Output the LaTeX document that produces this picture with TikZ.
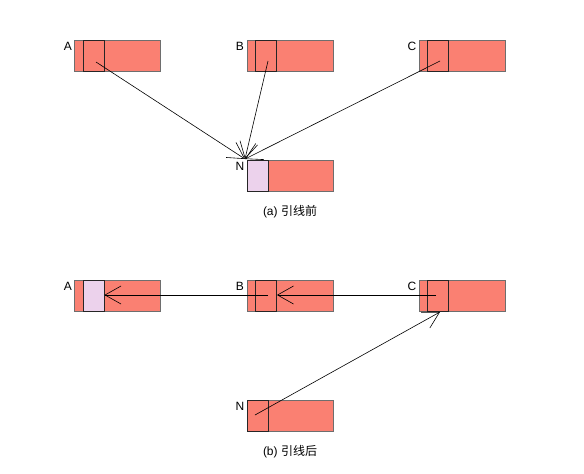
\documentclass[tikz,border=0pt]{standalone}
\usepackage{fontspec}
\setmainfont{Liberation Sans}
\newfontfamily\cjk{Noto Sans CJK SC}
\usetikzlibrary{arrows.meta}
\definecolor{salm}{RGB}{250,128,114}
\definecolor{lav}{RGB}{236,210,236}
\definecolor{edge}{RGB}{110,110,110}
\tikzset{
  outerbox/.style={draw=edge, fill=salm, line width=0.8pt, minimum width=86pt, minimum height=31pt, inner sep=0pt},
  innerbox/.style={draw=black!85, line width=0.8pt, minimum width=21pt, minimum height=31pt, inner sep=0pt},
  hl/.style={fill=lav},
  lbl/.style={font=\fontsize{12pt}{14pt}\selectfont, inner sep=0pt},
  captext/.style={font=\fontsize{12pt}{14pt}\selectfont, inner sep=0pt},
  link/.style={line width=0.6pt, -{Straight Barb[length=16pt,width=18pt,line width=0.6pt]}}
}
\begin{document}
\begin{tikzpicture}[x=1pt,y=-1pt]
\useasboundingbox (0,0) rectangle (584,474);
% (a)
\node[outerbox] (Ao) at (117,55.5) {};
\node[innerbox] (Ai) at (93.5,55.5) {};
\node[outerbox] (Bo) at (290,55.5) {};
\node[innerbox] (Bi) at (266,55.5) {};
\node[outerbox] (Co) at (462,55.5) {};
\node[innerbox] (Ci) at (438,55.5) {};
\node[outerbox] (No) at (290,175.5) {};
\node[innerbox,hl] (Ni) at (257.5,175.5) {};
\node[lbl] (Al) at (68,46) {A};
\node[lbl] (Bl) at (240,46) {B};
\node[lbl] (Cl) at (412,46) {C};
\node[lbl] (Nl) at (240,166) {N};
\coordinate (As) at (96,62);
\coordinate (Bs) at (268,61);
\coordinate (Cs) at (440,61);
\coordinate (Nt) at (245,159);
\draw[link] (As) -- (Nt);
\draw[link] (Bs) -- (Nt);
\draw[link] (Cs) -- (Nt);
\node[captext] (capa) at (290,212) {(a) {\cjk 引线前}};
% (b)
\node[outerbox] (Ao2) at (117,295.5) {};
\node[innerbox,hl] (Ai2) at (93.5,295.5) {};
\node[outerbox] (Bo2) at (290,295.5) {};
\node[innerbox] (Bi2) at (266,295.5) {};
\node[outerbox] (Co2) at (462,295.5) {};
\node[innerbox] (Ci2) at (438,295.5) {};
\node[outerbox] (No2) at (290,415.5) {};
\node[innerbox] (Ni2) at (257.5,415.5) {};
\node[lbl] (Al2) at (68,286) {A};
\node[lbl] (Bl2) at (240,286) {B};
\node[lbl] (Cl2) at (412,286) {C};
\node[lbl] (Nl2) at (240,406) {N};
\coordinate (Cs2) at (436,295);
\coordinate (Bs2) at (268,295);
\coordinate (Ns2) at (255,415);
\coordinate (Ct2) at (440,312);
\draw[link] (Cs2) -- (Bi2.east |- Cs2);
\draw[link] (Bs2) -- (Ai2.east |- Bs2);
\draw[link] (Ns2) -- (Ct2);
\node[captext] (capb) at (290,452) {(b) {\cjk 引线后}};
\end{tikzpicture}
\end{document}
